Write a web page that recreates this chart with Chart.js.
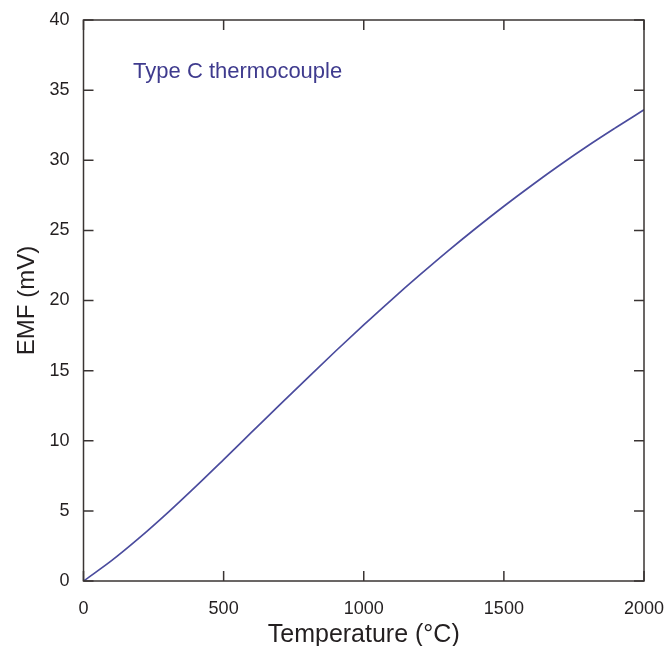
<!DOCTYPE html>
<html>
<head>
<meta charset="utf-8">
<script src="https://cdn.jsdelivr.net/npm/chart.js@4"></script>
<style>
  html, body { margin: 0; padding: 0; background: #fff; }
  #wrap { width: 667px; height: 646px; }
</style>
</head>
<body>
<div id="wrap"><canvas id="emfChart"></canvas></div>
<script>
var temperature = [0, 100, 200, 300, 400, 500, 600, 700, 800, 900, 1000, 1100, 1200, 1300, 1400, 1500, 1600, 1700, 1800, 1900, 2000];
var emf = [0, 1.45, 3.09, 4.86, 6.73, 8.66, 10.61, 12.56, 14.49, 16.40, 18.26, 20.07, 21.82, 23.52, 25.15, 26.72, 28.22, 29.66, 31.03, 32.33, 33.6];
var xTicks = [0, 500, 1000, 1500, 2000];
var yTicks = [0, 5, 10, 15, 20, 25, 30, 35, 40];
var annotation = { text: "Type C thermocouple", x: 177, y: 36.3 };

var points = temperature.map(function (t, i) { return { x: t, y: emf[i] }; });
var axisColor = "#3a3433";
var fontFamily = "'Liberation Sans', Arial, sans-serif";

// box round the plot and tick marks pointing inward on all four sides
var frameTicks = {
  id: "frameTicks",
  afterDraw: function (chart) {
    var ctx = chart.ctx, a = chart.chartArea;
    var xs = chart.scales.x, ys = chart.scales.y;
    ctx.save();
    ctx.strokeStyle = axisColor;
    ctx.lineWidth = 1.5;
    ctx.strokeRect(a.left, a.top, a.right - a.left, a.bottom - a.top);
    ctx.beginPath();
    xTicks.forEach(function (v) {
      var px = xs.getPixelForValue(v);
      ctx.moveTo(px, a.bottom); ctx.lineTo(px, a.bottom - 10);
      ctx.moveTo(px, a.top); ctx.lineTo(px, a.top + 10);
    });
    yTicks.forEach(function (v) {
      var py = ys.getPixelForValue(v);
      ctx.moveTo(a.left, py); ctx.lineTo(a.left + 10, py);
      ctx.moveTo(a.right, py); ctx.lineTo(a.right - 10, py);
    });
    ctx.stroke();
    ctx.fillStyle = "#3f3b8e";
    ctx.font = "22px " + fontFamily;
    ctx.textBaseline = "middle";
    ctx.fillText(annotation.text, xs.getPixelForValue(annotation.x), ys.getPixelForValue(annotation.y));
    ctx.restore();
  }
};

new Chart(document.getElementById("emfChart").getContext("2d"), {
  type: "line",
  data: {
    datasets: [{
      data: points,
      borderColor: "#4b4c9e",
      borderWidth: 1.7,
      pointRadius: 0,
      fill: false,
      cubicInterpolationMode: "monotone"
    }]
  },
  options: {
    responsive: true,
    maintainAspectRatio: false,
    animation: false,
    layout: { padding: { top: 20, right: 23, left: 0, bottom: 0 } },
    plugins: { legend: { display: false }, tooltip: { enabled: false } },
    scales: {
      x: {
        type: "linear",
        min: 0,
        max: 2000,
        afterBuildTicks: function (scale) { scale.ticks = xTicks.map(function (v) { return { value: v }; }); },
        afterFit: function (scale) { scale.height = 65; scale.paddingLeft = 0; scale.paddingRight = 0; },
        grid: { display: false, drawTicks: false },
        border: { display: false },
        ticks: { padding: 17, color: "#231f20", font: { size: 18, family: fontFamily }, maxRotation: 0,
          callback: function (v) { return String(v); } },
        title: { display: true, text: "Temperature (°C)", color: "#231f20", padding: { top: 0, bottom: -4 }, font: { size: 25, family: fontFamily } }
      },
      y: {
        min: 0,
        max: 40,
        afterBuildTicks: function (scale) { scale.ticks = yTicks.map(function (v) { return { value: v }; }); },
        afterFit: function (scale) { scale.width = 83.5; scale.paddingTop = 0; scale.paddingBottom = 0; },
        grid: { display: false, drawTicks: false },
        border: { display: false },
        ticks: { padding: 14, color: "#231f20", font: { size: 18, family: fontFamily } },
        title: { display: true, text: "EMF (mV)", color: "#231f20", padding: { top: 13, bottom: 0 }, font: { size: 24, family: fontFamily } }
      }
    }
  },
  plugins: [frameTicks]
});
</script>
</body>
</html>
